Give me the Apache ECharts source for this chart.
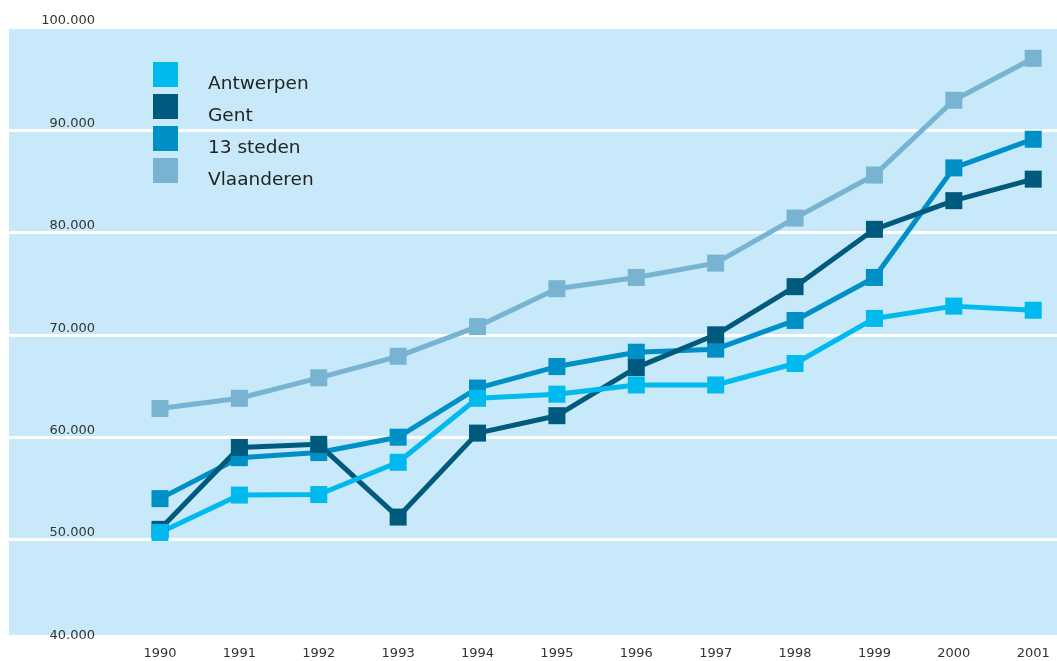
<!DOCTYPE html>
<html>
<head>
<meta charset="utf-8">
<script src="https://cdn.jsdelivr.net/npm/echarts@6/dist/echarts.min.js"></script>
<style>
  html, body { margin: 0; padding: 0; background: #fff; }
  #chart { width: 1057px; height: 661px; }
</style>
</head>
<body>
<div id="chart"></div>
<script>
const years = ['1990', '1991', '1992', '1993', '1994', '1995', '1996', '1997', '1998', '1999', '2000', '2001']
const antwerpen = [50700, 54350, 54400, 57550, 63800, 64200, 65100, 65100, 67200, 71600, 72800, 72400]
const gent = [51000, 59000, 59300, 52200, 60400, 62100, 66800, 70000, 74700, 80300, 83100, 85200]
const steden13 = [54000, 58000, 58500, 60000, 64800, 66900, 68300, 68600, 71400, 75600, 86300, 89100]
const vlaanderen = [62800, 63800, 65800, 67900, 70800, 74500, 75600, 77000, 81400, 85600, 92900, 97000]
const yTicks = [40000, 50000, 60000, 70000, 80000, 90000, 100000]

const FONT = '"DejaVu Sans", sans-serif'

function makeLine(name, data, color) {
  return {
    name: name,
    type: 'line',
    xAxisIndex: 1,
    yAxisIndex: 1,
    data: data,
    symbol: 'rect',
    symbolSize: 17,
    showAllSymbol: true,
    itemStyle: { color: color },
    lineStyle: { color: color, width: 5 },
    animation: false
  }
}

const chart = echarts.init(document.getElementById('chart'))
chart.setOption({
  backgroundColor: '#fff',
  graphic: {
    elements: [
      {
        type: 'rect',
        z: -10,
        shape: { x: 9, y: 28, width: 1048, height: 607 },
        style: { fill: '#c7e9f9' }
      }
    ]
  },
  legend: {
    orient: 'vertical',
    left: 153,
    top: 55.5,
    padding: 0,
    icon: 'rect',
    itemWidth: 25,
    itemHeight: 25,
    itemGap: -6,
    data: ['Antwerpen', 'Gent', '13 steden', 'Vlaanderen'],
    // label sits a bit lower than the square in the original
    formatter: name => '{n|' + name + '}',
    textStyle: {
      padding: [0, 0, 0, 25],
      rich: {
        n: {
          fontFamily: FONT,
          fontSize: 18.5,
          lineHeight: 15,
          color: '#232323',
          padding: [19, 0, 0, 0]
        }
      }
    }
  },
  grid: [
    { left: 9, right: 0, top: 27.6, bottom: 19, outerBoundsMode: 'none' },
    { left: 120.3, width: 952.6, top: 27.6, bottom: 19, outerBoundsMode: 'none' }
  ],
  xAxis: [
    { gridIndex: 0, type: 'value', show: false },
    {
      gridIndex: 1,
      type: 'category',
      data: years,
      boundaryGap: true,
      axisLine: { show: false },
      axisTick: { show: false },
      splitLine: { show: false },
      axisLabel: { margin: 5, fontFamily: FONT, fontSize: 13, color: '#333' }
    }
  ],
  yAxis: [
    {
      gridIndex: 0,
      type: 'value',
      min: yTicks[0],
      max: yTicks[yTicks.length - 1],
      interval: 10000,
      axisLine: { show: false },
      axisTick: { show: false },
      splitLine: { lineStyle: { color: '#fff', width: 3 } },
      axisLabel: {
        margin: -86,
        verticalAlign: 'bottom',
        fontFamily: FONT,
        fontSize: 13,
        color: '#333',
        formatter: v => (v / 1000) + '.000'
      }
    },
    {
      gridIndex: 1,
      type: 'value',
      min: yTicks[0],
      max: yTicks[yTicks.length - 1],
      show: false,
      splitLine: { show: false }
    }
  ],
  series: [
    makeLine('Vlaanderen', vlaanderen, '#78b4d2'),
    makeLine('13 steden', steden13, '#0090c8'),
    makeLine('Gent', gent, '#005a7e'),
    makeLine('Antwerpen', antwerpen, '#00b9ef')
  ]
})
</script>
</body>
</html>
